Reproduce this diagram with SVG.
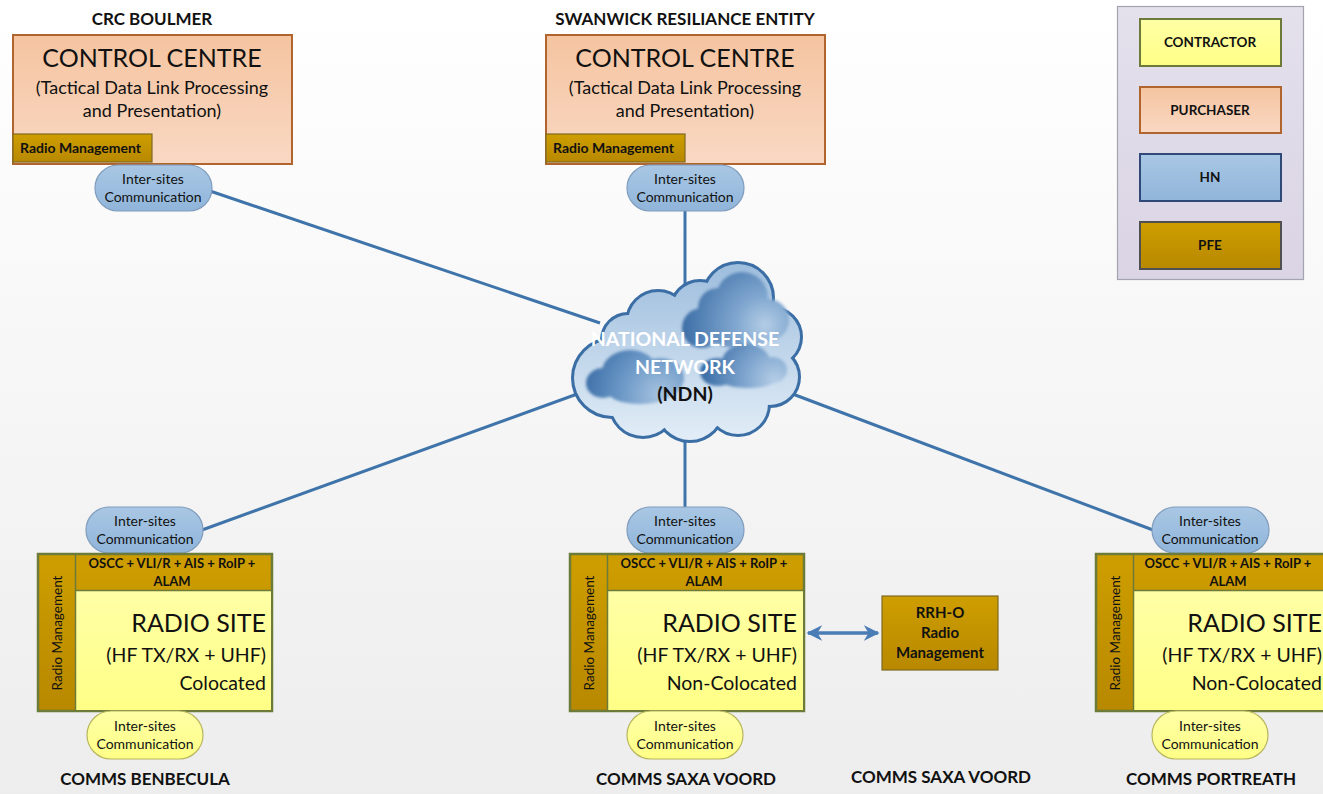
<svg xmlns="http://www.w3.org/2000/svg" width="1323" height="794" viewBox="0 0 1323 794">
  <style>
    text { font-family: Lato, "Open Sans", "Liberation Sans", sans-serif; fill: #111; }
    .b { font-weight: bold; }
    .mid { text-anchor: middle; }
    .end { text-anchor: end; }
    .title { font-size: 17px; font-weight: bold; }
    .cc { font-size: 25px; }
    .ccsub { font-size: 18px; }
    .rm { font-size: 14px; font-weight: bold; }
    .pill { font-size: 14px; }
    .band { font-size: 13px; font-weight: bold; }
    .rs { font-size: 25px; }
    .rssub { font-size: 19.5px; }
    .vert { font-size: 13.5px; }
    .leg { font-size: 13.5px; font-weight: bold; }
    .rrh { font-size: 15px; font-weight: bold; }
    .link { stroke: #3F74AA; stroke-width: 3; fill: none; }
    .ccbox { fill: url(#peach); stroke: #B0652F; stroke-width: 2; }
    .gold { fill: url(#goldg); stroke: #7E6A22; stroke-width: 1.2; }
    .bpill { fill: url(#blueg); stroke: #7F9CBD; stroke-width: 1.2; }
    .ypill { fill: url(#yellowg); stroke: #B8B65E; stroke-width: 1.2; }
    .site { fill: url(#goldg); stroke: #6C7B3A; stroke-width: 2.5; }
    .yel { fill: url(#yellowg); }
  </style>
  <defs>
    <linearGradient id="bg" x1="0" y1="0" x2="0" y2="1">
      <stop offset="0" stop-color="#FFFFFF"/>
      <stop offset="1" stop-color="#EDEDED"/>
    </linearGradient>
    <linearGradient id="peach" x1="0" y1="0" x2="0" y2="1">
      <stop offset="0" stop-color="#F5C4A0"/>
      <stop offset="1" stop-color="#F9D8C3"/>
    </linearGradient>
    <linearGradient id="goldg" x1="0" y1="0" x2="0" y2="1">
      <stop offset="0" stop-color="#CE9E00"/>
      <stop offset="1" stop-color="#B88800"/>
    </linearGradient>
    <linearGradient id="blueg" x1="0" y1="0" x2="0" y2="1">
      <stop offset="0" stop-color="#A9C7E4"/>
      <stop offset="1" stop-color="#90B5DA"/>
    </linearGradient>
    <linearGradient id="yellowg" x1="0" y1="0" x2="0" y2="1">
      <stop offset="0" stop-color="#FFFFA6"/>
      <stop offset="1" stop-color="#FFFF86"/>
    </linearGradient>
    <linearGradient id="cloudg" gradientUnits="userSpaceOnUse" x1="0" y1="262" x2="0" y2="440">
      <stop offset="0" stop-color="#9DBDDD"/>
      <stop offset="1" stop-color="#E2EDF7"/>
    </linearGradient>
    <radialGradient id="darkA" gradientUnits="userSpaceOnUse" cx="765" cy="325" r="85">
      <stop offset="0" stop-color="#B4CDE6"/>
      <stop offset="0.35" stop-color="#7FA6CF"/>
      <stop offset="1" stop-color="#3A6CA5"/>
    </radialGradient>
    <radialGradient id="darkB" gradientUnits="userSpaceOnUse" cx="660" cy="395" r="80">
      <stop offset="0" stop-color="#A7C3E0"/>
      <stop offset="0.5" stop-color="#6A97C6"/>
      <stop offset="1" stop-color="#3A6CA5"/>
    </radialGradient>
    <radialGradient id="darkC" gradientUnits="userSpaceOnUse" cx="775" cy="380" r="70">
      <stop offset="0" stop-color="#B4CDE6"/>
      <stop offset="0.45" stop-color="#7DA4CE"/>
      <stop offset="1" stop-color="#3E70A8"/>
    </radialGradient>
    <linearGradient id="lav" x1="0" y1="0" x2="0" y2="1">
      <stop offset="0" stop-color="#E4E0EC"/>
      <stop offset="1" stop-color="#DAD4E4"/>
    </linearGradient>
    <marker id="arr" viewBox="0 0 10 10" refX="9" refY="5" markerWidth="4.5" markerHeight="4.5" orient="auto-start-reverse" markerUnits="strokeWidth">
      <path d="M0,0 L10,5 L0,10 L3,5 Z" fill="#4A7DB5"/>
    </marker>
    <filter id="soft" x="-30%" y="-30%" width="160%" height="160%">
      <feGaussianBlur stdDeviation="1.5"/>
    </filter>
  </defs>

  <!-- background -->
  <rect x="0" y="0" width="1323" height="794" fill="url(#bg)"/>

  <!-- connectors -->
  <g id="connectors">
    <line class="link" x1="210" y1="191" x2="600" y2="323"/>
    <line class="link" x1="685" y1="210" x2="685" y2="290"/>
    <line class="link" x1="580" y1="393" x2="202" y2="530"/>
    <line class="link" x1="685" y1="436" x2="685" y2="508"/>
    <line class="link" x1="790" y1="393" x2="1153" y2="530"/>
    <line x1="808" y1="633" x2="878" y2="633" stroke="#4A7DB5" stroke-width="3.5" marker-start="url(#arr)" marker-end="url(#arr)"/>
  </g>

  <!-- cloud: outlined circles, then filled circles on top to leave only the outer rim -->
  <g id="ndn">
    <g fill="none" stroke="#3A6EA5" stroke-width="6">
      <circle cx="612" cy="378" r="38"/>
      <circle cx="628" cy="340" r="25"/>
      <circle cx="658" cy="322" r="30"/>
      <circle cx="700" cy="310" r="28"/>
      <circle cx="738" cy="298" r="34"/>
      <circle cx="772" cy="337" r="28"/>
      <circle cx="770" cy="377" r="28"/>
      <circle cx="738" cy="404" r="30"/>
      <circle cx="690" cy="407" r="33"/>
      <circle cx="643" cy="404" r="32"/>
    </g>
    <g fill="url(#cloudg)">
      <circle cx="612" cy="378" r="38"/>
      <circle cx="628" cy="340" r="25"/>
      <circle cx="658" cy="322" r="30"/>
      <circle cx="700" cy="310" r="28"/>
      <circle cx="738" cy="298" r="34"/>
      <circle cx="772" cy="337" r="28"/>
      <circle cx="770" cy="377" r="28"/>
      <circle cx="738" cy="404" r="30"/>
      <circle cx="690" cy="407" r="33"/>
      <circle cx="643" cy="404" r="32"/>
      <circle cx="690" cy="362" r="62"/>
    </g>
    <g fill="url(#darkA)" filter="url(#soft)">
      <circle cx="702" cy="328" r="20"/>
      <circle cx="718" cy="308" r="20"/>
      <circle cx="742" cy="298" r="26"/>
      <circle cx="768" cy="320" r="21"/>
      <ellipse cx="740" cy="330" rx="35" ry="18"/>
    </g>
    <g fill="url(#darkB)" filter="url(#soft)">
      <ellipse cx="603" cy="383" rx="17" ry="15"/>
      <ellipse cx="630" cy="372" rx="28" ry="22"/>
      <ellipse cx="660" cy="378" rx="24" ry="20"/>
      <ellipse cx="640" cy="392" rx="32" ry="12"/>
    </g>
    <g fill="url(#darkC)" filter="url(#soft)">
      <ellipse cx="718" cy="372" rx="18" ry="14"/>
      <ellipse cx="746" cy="362" rx="24" ry="18"/>
      <ellipse cx="772" cy="370" rx="15" ry="13"/>
      <ellipse cx="748" cy="378" rx="30" ry="10"/>
    </g>
    <text class="b mid" x="685" y="346" font-size="19.5" style="fill:#FFFFFF">NATIONAL DEFENSE</text>
    <text class="b mid" x="685" y="374" font-size="19.5" style="fill:#FFFFFF">NETWORK</text>
    <text class="b mid" x="685" y="401" font-size="19.5">(NDN)</text>
  </g>

  <!-- control centres -->
  <g id="cc-boulmer">
    <text class="title mid" x="152" y="25">CRC BOULMER</text>
    <rect class="ccbox" x="13" y="35" width="279" height="129"/>
    <text class="cc mid" x="152" y="67">CONTROL CENTRE</text>
    <text class="ccsub mid" x="152" y="94">(Tactical Data Link Processing</text>
    <text class="ccsub mid" x="152" y="117">and Presentation)</text>
    <rect class="gold" x="13" y="134" width="139" height="28"/>
    <text class="rm" x="20" y="153">Radio Management</text>
  </g>
  <g id="cc-swanwick">
    <text class="title mid" x="685" y="25">SWANWICK RESILIANCE ENTITY</text>
    <rect class="ccbox" x="546" y="35" width="279" height="129"/>
    <text class="cc mid" x="685" y="67">CONTROL CENTRE</text>
    <text class="ccsub mid" x="685" y="94">(Tactical Data Link Processing</text>
    <text class="ccsub mid" x="685" y="117">and Presentation)</text>
    <rect class="gold" x="546" y="134" width="139" height="28"/>
    <text class="rm" x="553" y="153">Radio Management</text>
  </g>

  <!-- inter-site pills at control centres -->
  <g id="pill-boulmer">
    <rect class="bpill" x="95" y="165" width="117" height="46" rx="23"/>
    <text class="pill mid" x="153" y="184">Inter-sites</text>
    <text class="pill mid" x="153" y="202">Communication</text>
  </g>
  <g id="pill-swanwick">
    <rect class="bpill" x="627" y="165" width="117" height="46" rx="23"/>
    <text class="pill mid" x="685" y="184">Inter-sites</text>
    <text class="pill mid" x="685" y="202">Communication</text>
  </g>

  <!-- radio sites -->
  <g id="site-benbecula">
    <rect class="bpill" x="86" y="507" width="117" height="46" rx="23"/>
    <text class="pill mid" x="145" y="526">Inter-sites</text>
    <text class="pill mid" x="145" y="544">Communication</text>
    <rect class="site" x="38" y="554" width="234" height="157"/>
    <rect class="yel" x="76" y="591" width="195" height="119"/>
    <line x1="75.5" y1="555" x2="75.5" y2="710" stroke="#6C7B3A" stroke-width="1.5"/>
    <line x1="76" y1="590.5" x2="271" y2="590.5" stroke="#6C7B3A" stroke-width="1.5"/>
    <text class="band mid" x="172" y="568">OSCC + VLI/R + AIS + RoIP +</text>
    <text class="band mid" x="172" y="586">ALAM</text>
    <text class="rs end" x="266" y="632">RADIO SITE</text>
    <text class="rssub end" x="266" y="662">(HF TX/RX + UHF)</text>
    <text class="rssub end" x="266" y="690">Colocated</text>
    <text class="vert mid" transform="translate(62,633) rotate(-90)">Radio Management</text>
    <rect class="ypill" x="87" y="711" width="116" height="48" rx="24"/>
    <text class="pill mid" x="145" y="731">Inter-sites</text>
    <text class="pill mid" x="145" y="749">Communication</text>
    <text class="title mid" x="145" y="785">COMMS BENBECULA</text>
  </g>

  <g id="site-saxa">
    <rect class="bpill" x="627" y="507" width="117" height="46" rx="23"/>
    <text class="pill mid" x="685" y="526">Inter-sites</text>
    <text class="pill mid" x="685" y="544">Communication</text>
    <rect class="site" x="570" y="554" width="234" height="157"/>
    <rect class="yel" x="608" y="591" width="195" height="119"/>
    <line x1="607.5" y1="555" x2="607.5" y2="710" stroke="#6C7B3A" stroke-width="1.5"/>
    <line x1="608" y1="590.5" x2="803" y2="590.5" stroke="#6C7B3A" stroke-width="1.5"/>
    <text class="band mid" x="704" y="568">OSCC + VLI/R + AIS + RoIP +</text>
    <text class="band mid" x="704" y="586">ALAM</text>
    <text class="rs end" x="797" y="632">RADIO SITE</text>
    <text class="rssub end" x="797" y="662">(HF TX/RX + UHF)</text>
    <text class="rssub end" x="797" y="690">Non-Colocated</text>
    <text class="vert mid" transform="translate(594,633) rotate(-90)">Radio Management</text>
    <rect class="ypill" x="627" y="711" width="116" height="48" rx="24"/>
    <text class="pill mid" x="685" y="731">Inter-sites</text>
    <text class="pill mid" x="685" y="749">Communication</text>
    <text class="title mid" x="686" y="785">COMMS SAXA VOORD</text>
  </g>

  <g id="rrh-o">
    <rect class="gold" x="882" y="596" width="116" height="74"/>
    <text class="rrh mid" x="940" y="618">RRH-O</text>
    <text class="rrh mid" x="940" y="638">Radio</text>
    <text class="rrh mid" x="940" y="658">Management</text>
    <text class="title mid" x="941" y="783">COMMS SAXA VOORD</text>
  </g>

  <g id="site-portreath">
    <rect class="bpill" x="1152" y="507" width="117" height="46" rx="23"/>
    <text class="pill mid" x="1210" y="526">Inter-sites</text>
    <text class="pill mid" x="1210" y="544">Communication</text>
    <rect class="site" x="1096" y="554" width="234" height="157"/>
    <rect class="yel" x="1134" y="591" width="195" height="119"/>
    <line x1="1133.5" y1="555" x2="1133.5" y2="710" stroke="#6C7B3A" stroke-width="1.5"/>
    <line x1="1134" y1="590.5" x2="1329" y2="590.5" stroke="#6C7B3A" stroke-width="1.5"/>
    <text class="band mid" x="1228" y="568">OSCC + VLI/R + AIS + RoIP +</text>
    <text class="band mid" x="1228" y="586">ALAM</text>
    <text class="rs end" x="1322" y="632">RADIO SITE</text>
    <text class="rssub end" x="1322" y="662">(HF TX/RX + UHF)</text>
    <text class="rssub end" x="1322" y="690">Non-Colocated</text>
    <text class="vert mid" transform="translate(1120,633) rotate(-90)">Radio Management</text>
    <rect class="ypill" x="1152" y="711" width="116" height="48" rx="24"/>
    <text class="pill mid" x="1210" y="731">Inter-sites</text>
    <text class="pill mid" x="1210" y="749">Communication</text>
    <text class="title mid" x="1211" y="785">COMMS PORTREATH</text>
  </g>

  <!-- legend -->
  <g id="legend">
    <rect x="1117.5" y="6.5" width="186" height="273" fill="url(#lav)" stroke="#A4A4B0" stroke-width="1.2"/>
    <rect x="1140" y="19" width="141" height="47" fill="url(#yellowg)" stroke="#6C7B3A" stroke-width="2"/>
    <text class="leg mid" x="1210" y="47">CONTRACTOR</text>
    <rect x="1140" y="87" width="141" height="46" fill="url(#peach)" stroke="#B0652F" stroke-width="2"/>
    <text class="leg mid" x="1210" y="115">PURCHASER</text>
    <rect x="1140" y="154" width="141" height="47" fill="url(#blueg)" stroke="#2F4A78" stroke-width="2"/>
    <text class="leg mid" x="1210" y="182">HN</text>
    <rect x="1140" y="222" width="141" height="47" fill="url(#goldg)" stroke="#505050" stroke-width="2"/>
    <text class="leg mid" x="1210" y="250">PFE</text>
  </g>
</svg>
